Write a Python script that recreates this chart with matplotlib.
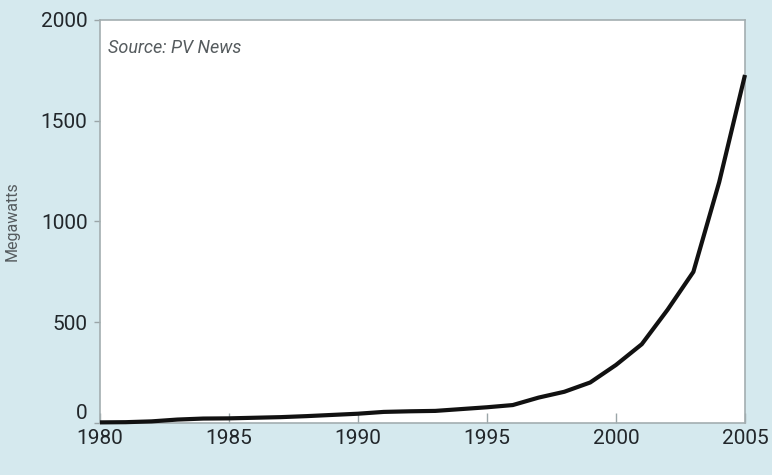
import matplotlib
matplotlib.use("Agg")
import matplotlib.pyplot as plt

years = [1980, 1981, 1982, 1983, 1984, 1985, 1986, 1987, 1988, 1989, 1990,
         1991, 1992, 1993, 1994, 1995, 1996, 1997, 1998, 1999, 2000,
         2001, 2002, 2003, 2004, 2005]
megawatts = [3, 4, 8, 17, 22, 23, 26, 29, 34, 40, 46,
             55, 58, 60, 69, 78, 89, 126, 155, 201, 288,
             391, 562, 750, 1195, 1727]
xticks = [1980, 1985, 1990, 1995, 2000, 2005]
yticks = [0, 500, 1000, 1500, 2000]

plt.rcParams['font.family'] = ['Roboto', 'DejaVu Sans']

bg = '#d5e9ee'
fig = plt.figure(figsize=(7.72, 4.75), dpi=100, facecolor=bg)
ax = fig.add_axes([0.1295, 0.1095, 0.8355, 0.8485])
ax.set_facecolor('white')

ax.plot(years, megawatts, color='#111111', lw=3.0, solid_joinstyle='round',
        solid_capstyle='butt', clip_on=False, zorder=3)

ax.set_xlim(1980, 2005)
ax.set_ylim(0, 2000)
ax.set_xticks(xticks)
ax.set_yticks(yticks)
ax.set_xticklabels([str(x) for x in xticks], fontsize=15, color='#22272b')
ax.set_yticklabels([str(y) for y in yticks], fontsize=15, color='#22272b')
ax.tick_params(axis='x', direction='in', length=7, width=1, color='#9aa5a8', pad=4)
ax.tick_params(axis='y', direction='out', length=4, width=1, color='#9aa5a8', pad=5)
for lbl in ax.get_yticklabels():
    if lbl.get_text() == '0':
        lbl.set_verticalalignment('bottom')

for s in ax.spines.values():
    s.set_color('#a3aeb0')
    s.set_linewidth(1.2)

ax.set_ylabel('Megawatts', fontsize=11.5, color='#555b5e')
ax.yaxis.set_label_coords(-0.124, 0.5)
ax.text(0.013, 0.93, 'Source: PV News', transform=ax.transAxes, fontsize=13,
        style='italic', color='#555b5e', ha='left', va='center')

fig.savefig('out.png', dpi=100, facecolor=bg)
